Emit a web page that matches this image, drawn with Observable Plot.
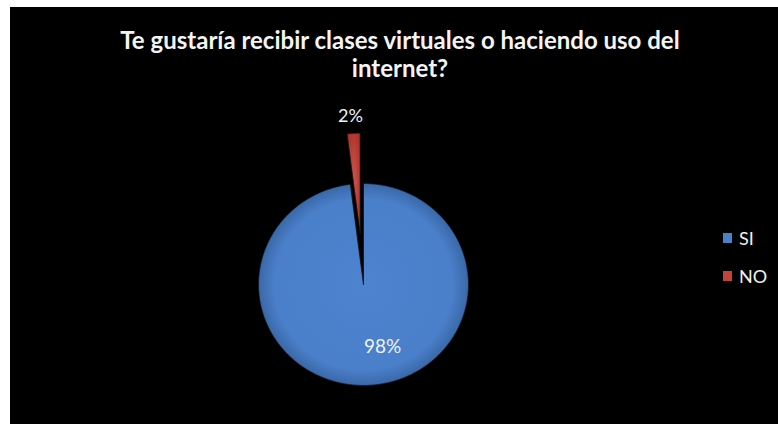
<!DOCTYPE html>
<html>
<head>
<meta charset="utf-8">
<script src="https://cdn.jsdelivr.net/npm/d3@7"></script>
<script src="https://cdn.jsdelivr.net/npm/@observablehq/plot@0.6"></script>
<style>
  html, body { margin: 0; padding: 0; background: #ffffff; width: 778px; height: 424px; overflow: hidden; }
  #panel { position: absolute; left: 10px; top: 7px; width: 768px; height: 417px; background: #000000; }
  #chart { position: absolute; left: 0; top: 0; }
  #title { position: absolute; left: 0; top: 26px; width: 800px; text-align: center;
           font-family: Lato, "Open Sans", sans-serif; font-weight: 700; font-size: 24px; line-height: 28px; color: #f4f4f4; }
  #legend { position: absolute; left: 723px; top: 228px; font-family: Lato, sans-serif; font-size: 18px; color: #f2f2f2; }
  .item { display: flex; align-items: center; height: 20px; margin-bottom: 18px; }
  .sw { width: 9px; height: 10px; margin-right: 7px; }
</style>
</head>
<body>
<div id="panel"></div>
<div id="chart"></div>
<div id="title"></div>
<div id="legend"></div>
<script>
const titleLines = ["Te gustaría recibir clases virtuales o haciendo uso del", "internet?"];
const categories = ["SI", "NO"];
const values = [98, 2];
const labels = ["98%", "2%"];
const colors = ["#4a7fca", "#c3423a"];
const explode = [0, 0.5];

// Title
document.getElementById("title").innerHTML = titleLines.map(t => `<div>${t}</div>`).join("");

// Legend
document.getElementById("legend").innerHTML = categories.map((c, i) =>
  `<div class="item"><div class="sw" style="background:${colors[i]}"></div><span>${c}</span></div>`).join("");

// Pie geometry from values
const W = 778, H = 424, cx = 363, cy = 284, rx = 105, ry = 101;
const arcs = d3.pie().sort(null).value(d => d)(values);
const polys = [];
const labelPts = [];
arcs.forEach((a, i) => {
  const mid = (a.startAngle + a.endAngle) / 2;
  const ox = explode[i] * Math.sin(mid), oy = explode[i] * Math.cos(mid);
  const n = Math.max(4, Math.ceil((a.endAngle - a.startAngle) / 0.005));
  polys.push({cat: categories[i], x: ox, y: oy});
  for (let k = 0; k <= n; k++) {
    const t = a.startAngle + (a.endAngle - a.startAngle) * k / n;
    polys.push({cat: categories[i], x: ox + Math.sin(t), y: oy + Math.cos(t)});
  }
  polys.push({cat: categories[i], x: ox, y: oy});
  const lr = i === 0 ? 0.62 : 1.17 + explode[i];
  labelPts.push({cat: categories[i], label: labels[i], x: lr * Math.sin(mid), y: lr * Math.cos(mid)});
});

const chart = Plot.plot({
  width: W, height: H,
  margin: 0,
  style: {background: "transparent", overflow: "visible"},
  x: {domain: [-cx / rx, (W - cx) / rx], axis: null},
  y: {domain: [-(H - cy) / ry, cy / ry], axis: null},
  color: {domain: categories, range: colors},
  marks: [
    Plot.line(polys, {x: "x", y: "y", z: "cat", fill: "cat", stroke: "#111", strokeWidth: 0.8, curve: "linear"}),
    Plot.text(labelPts.filter(d => d.cat === "SI"), {x: "x", y: "y", text: "label", dx: 15, fill: "#eef2f8", fontSize: 19, fontFamily: "Lato, sans-serif"}),
    Plot.text(labelPts.filter(d => d.cat === "NO"), {x: "x", y: "y", text: "label", dx: -2, fill: "#eef2f8", fontSize: 18, fontFamily: "Lato, sans-serif"})
  ]
});

// subtle 3D-like shading via radial gradients
const ns = "http://www.w3.org/2000/svg";
const defs = document.createElementNS(ns, "defs");
defs.innerHTML = `
  <radialGradient id="gSI" cx="0.5" cy="0.5" r="0.5">
    <stop offset="0" stop-color="#4d83cf"/><stop offset="0.85" stop-color="#4a7fca"/><stop offset="1" stop-color="#3a68a8"/>
  </radialGradient>
  <radialGradient id="gNO" cx="0.5" cy="0.5" r="0.6">
    <stop offset="0" stop-color="#d0544a"/><stop offset="1" stop-color="#a9322b"/>
  </radialGradient>`;
chart.prepend(defs);
chart.querySelectorAll("path").forEach(p => {
  const f = (p.getAttribute("fill") || "").toLowerCase();
  if (f === colors[0].toLowerCase()) p.setAttribute("fill", "url(#gSI)");
  if (f === colors[1].toLowerCase()) p.setAttribute("fill", "url(#gNO)");
});
document.getElementById("chart").appendChild(chart);
</script>
</body>
</html>
